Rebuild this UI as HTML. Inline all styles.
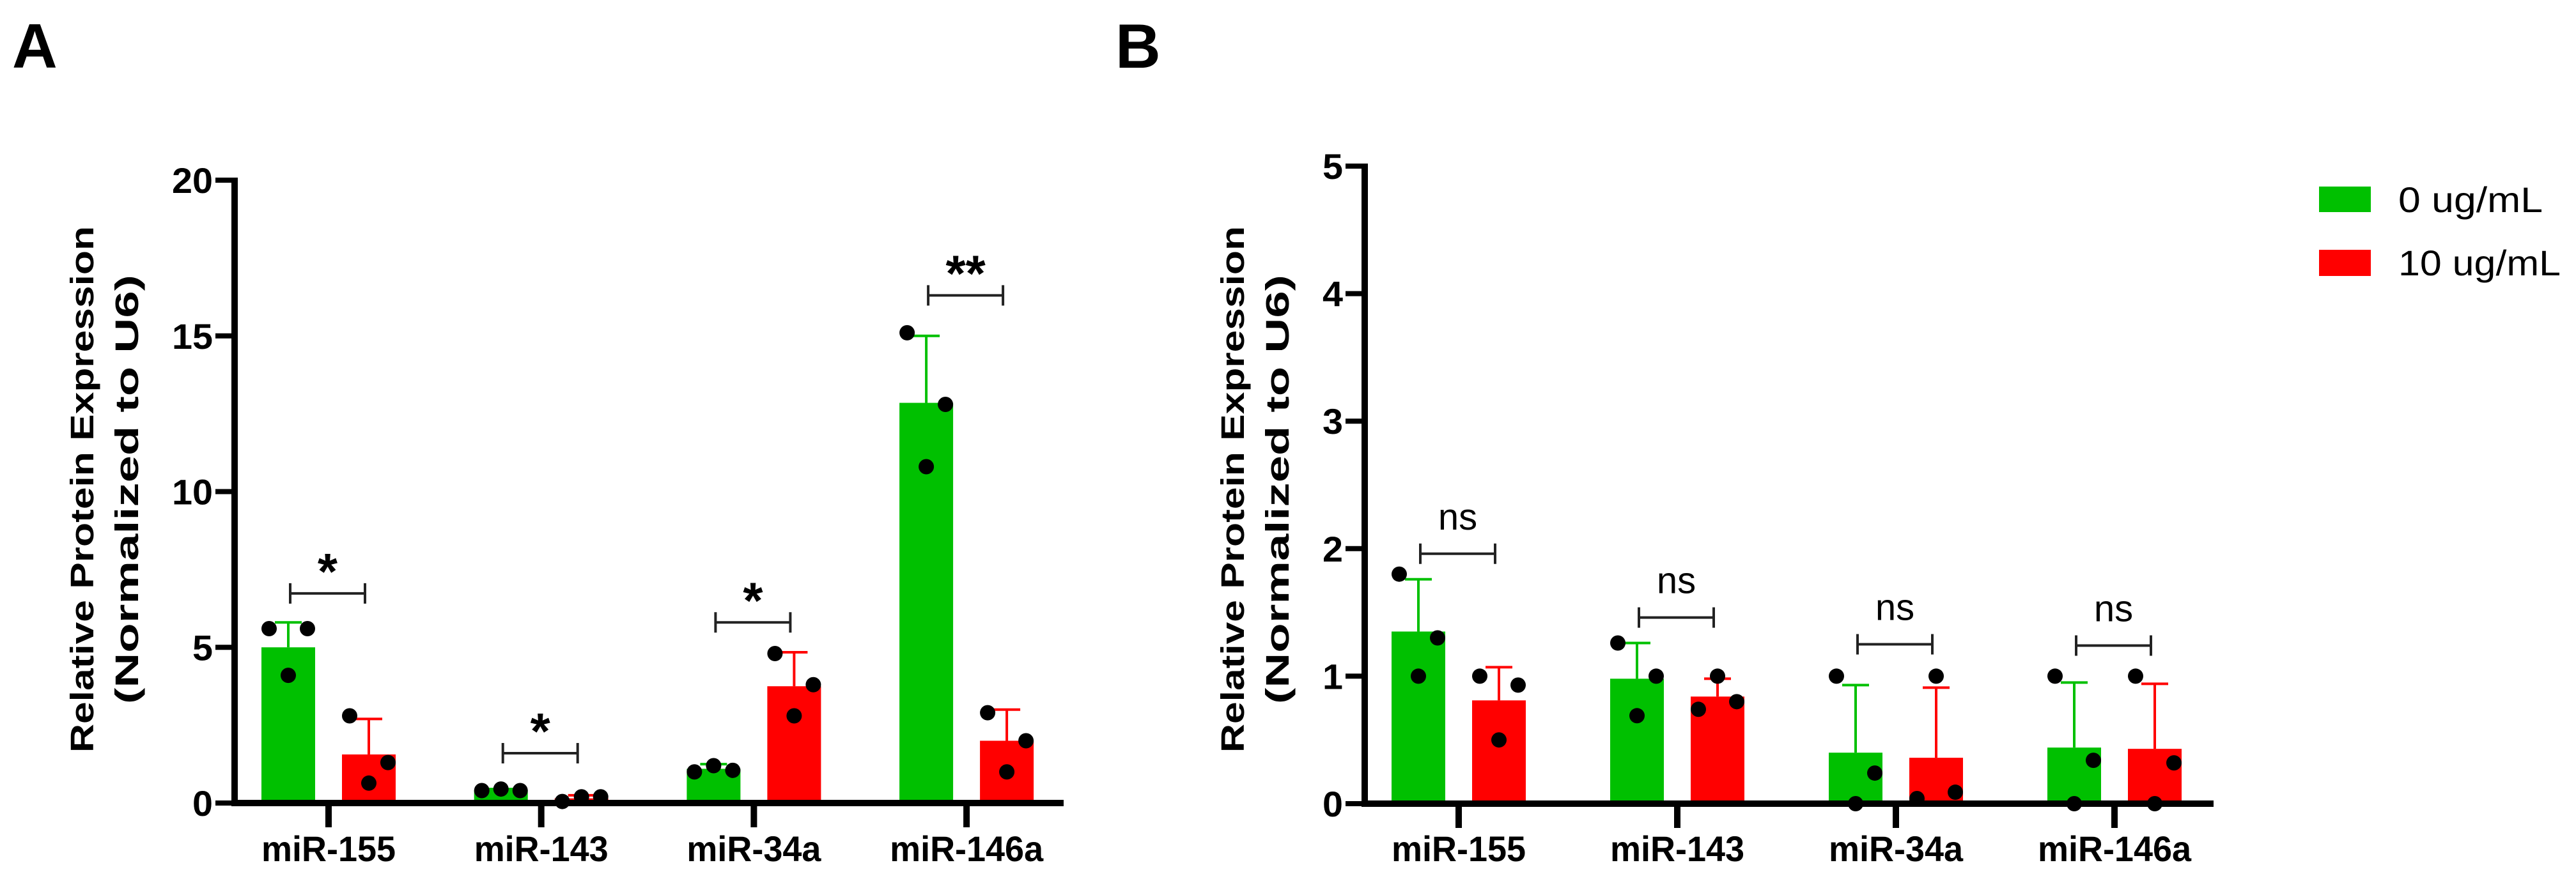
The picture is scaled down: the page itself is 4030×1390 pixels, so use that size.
<!DOCTYPE html>
<html><head><meta charset="utf-8"><style>
html,body{margin:0;padding:0;background:#fff;}
svg{display:block;font-family:"Liberation Sans",Arial,sans-serif;}
</style></head><body>
<svg id="fig" width="4030" height="1390" viewBox="0 0 4030 1390" xmlns="http://www.w3.org/2000/svg">
<text x="19" y="106" font-size="98" font-weight="bold">A</text>
<text x="1745" y="106" font-size="98" font-weight="bold">B</text>
<g id="chartA"></g>
<g id="chartB"></g>
<g>
<rect x="3628" y="292" width="81" height="40" fill="#00c000"/>
<text x="3752" y="332" font-size="56" textLength="226" lengthAdjust="spacingAndGlyphs">0 ug/mL</text>
<rect x="3628" y="391" width="81" height="41" fill="#ff0000"/>
<text x="3752" y="431" font-size="56" textLength="254" lengthAdjust="spacingAndGlyphs">10 ug/mL</text>
</g>
</svg>
<script>
var categories = ["miR-155","miR-143","miR-34a","miR-146a"];
// Panel A
var aGreenMean = [5.0, 0.42, 1.1, 12.85];
var aGreenErr = [5.8, 0.45, 1.25, 15.0];
var aGreenDots = [[5.6,4.1,5.6],[0.4,0.45,0.4],[1.0,1.2,1.05],[15.1,10.8,12.8]];
var aRedMean = [1.56, 0.15, 3.75, 2.0];
var aRedErr = [2.7, 0.25, 4.84, 3.0];
var aRedDots = [[2.8,0.64,1.3],[0.05,0.2,0.2],[4.8,2.8,3.8],[2.9,1.0,2.0]];
var aSig = ["*","*","*","**"];
var aSigLevel = [6.73, 1.6, 5.8, 16.3];
var aTicks = [0,5,10,15,20];
// Panel B
var bGreenMean = [1.35, 0.98, 0.40, 0.44];
var bGreenErr = [1.76, 1.26, 0.93, 0.95];
var bGreenDots = [[1.8,1.0,1.3],[1.26,0.69,1.0],[1.0,0.0,0.24],[1.0,0.0,0.34]];
var bRedMean = [0.81, 0.84, 0.36, 0.43];
var bRedErr = [1.07, 0.98, 0.91, 0.94];
var bRedDots = [[1.0,0.5,0.93],[0.74,1.0,0.8],[0.04,1.0,0.09],[1.0,0.0,0.32]];
var bSig = ["ns","ns","ns","ns"];
var bSigLevel = [1.96, 1.46, 1.25, 1.24];
var bTicks = [0,1,2,3,4,5];

var NS = "http://www.w3.org/2000/svg";
function mk(parent, tag, attrs){var e=document.createElementNS(NS,tag);for(var k in attrs)e.setAttribute(k,attrs[k]);parent.appendChild(e);return e;}

function drawChart(g, cfg){
  var yS = function(v){return cfg.y0 - (v - 0) * (cfg.y0 - cfg.yTop) / cfg.yMax;};
  var xS = function(i){return cfg.x0 + i * cfg.step;};
  var jit = [-30, 0, 30];
  function series(i, mean, err, dots, color, off, nm){
    var cx = xS(i) + off;
    var bar = mk(g,'rect',{x:cx-42,y:yS(mean[i]),width:84,height:cfg.y0-yS(mean[i]),fill:color});
    
    
    var el = mk(g,'line',{x1:cx,x2:cx,y1:yS(mean[i]),y2:yS(err[i]),stroke:color,'stroke-width':4});
    
    
    var cap = mk(g,'line',{x1:cx-21,x2:cx+21,y1:yS(err[i]),y2:yS(err[i]),stroke:color,'stroke-width':4});
    
    
    for(var j=0;j<dots[i].length;j++){
      var jj = cfg.noJitter ? 0 : jit[j];
      var d = mk(g,'circle',{cx:cx+jj,cy:yS(dots[i][j]),r:12,fill:'#000'});
      
      
    }
  }
  for(var i=0;i<categories.length;i++){
    series(i, cfg.gMean, cfg.gErr, cfg.gDots, '#00c000', -63, 'control');
    series(i, cfg.rMean, cfg.rErr, cfg.rDots, '#ff0000', 63, 'treated');
    var by = yS(cfg.sigLevel[i]), xa = xS(i)-60, xb = xS(i)+57;
    var br = mk(g,'path',{d:'M'+xa+' '+(by-16)+'V'+(by+16)+'M'+xa+' '+by+'H'+xb+'M'+xb+' '+(by-16)+'V'+(by+16),stroke:'#222','stroke-width':4,fill:'none'});
    
    
    var st = mk(g,'text',{x:(xa+xb)/2,y:cfg.sigBold?by-7:by-38,'text-anchor':'middle','font-size':cfg.sigBold?80:58,'font-weight':cfg.sigBold?'bold':'normal'});
    st.textContent = cfg.sig[i];
    
    
    var tk = mk(g,'line',{x1:xS(i),x2:xS(i),y1:cfg.y0,y2:cfg.y0+38,stroke:'#000','stroke-width':10});
    
    
    var lab = mk(g,'text',{x:xS(i),y:1348,'text-anchor':'middle','font-size':56,'font-weight':'bold',textLength:categories[i].length*30,lengthAdjust:'spacingAndGlyphs'});
    lab.textContent = categories[i];
    
    
  }
  var ya = mk(g,'line',{x1:cfg.ax,x2:cfg.ax,y1:cfg.yTop-4,y2:cfg.y0+5,stroke:'#000','stroke-width':10});
  
  
  var xa2 = mk(g,'line',{x1:cfg.ax-5,x2:cfg.axEnd,y1:cfg.y0,y2:cfg.y0,stroke:'#000','stroke-width':10});
  
  
  for(var t=0;t<cfg.ticks.length;t++){
    var ty = yS(cfg.ticks[t]);
    var yt = mk(g,'line',{x1:cfg.ax-30,x2:cfg.ax,y1:ty,y2:ty,stroke:'#000','stroke-width':8});
    
    
    var s = String(cfg.ticks[t]);
    var yl = mk(g,'text',{x:cfg.ax-34,y:ty+20,'text-anchor':'end','font-size':56,'font-weight':'bold',textLength:s.length*32,lengthAdjust:'spacingAndGlyphs'});
    yl.textContent = s;
    
    
  }
  var t1 = mk(g,'text',{transform:'translate('+cfg.titleX+',766) rotate(-90)','text-anchor':'middle','font-size':51,'font-weight':'bold',textLength:824,lengthAdjust:'spacingAndGlyphs'});
  t1.textContent = 'Relative Protein Expression';
  
  
  var t2 = mk(g,'text',{transform:'translate('+(cfg.titleX+70)+',766) rotate(-90)','text-anchor':'middle','font-size':51,'font-weight':'bold',textLength:672,lengthAdjust:'spacingAndGlyphs'});
  t2.textContent = '(Normalized to U6)';
  
  
}

drawChart(document.getElementById('chartA'), {
  x0:514, step:332.7, ax:367, axEnd:1664, y0:1257, yTop:282, yMax:20,
  gMean:aGreenMean,gErr:aGreenErr,gDots:aGreenDots,rMean:aRedMean,rErr:aRedErr,rDots:aRedDots,
  sig:aSig,sigLevel:aSigLevel,ticks:aTicks,sigBold:true,titleX:146
});
drawChart(document.getElementById('chartB'), {
  x0:2282, step:342, ax:2135, axEnd:3463, y0:1258, yTop:260, yMax:5,
  gMean:bGreenMean,gErr:bGreenErr,gDots:bGreenDots,rMean:bRedMean,rErr:bRedErr,rDots:bRedDots,
  sig:bSig,sigLevel:bSigLevel,ticks:bTicks,sigBold:false,titleX:1946
});
</script>
</body></html>
